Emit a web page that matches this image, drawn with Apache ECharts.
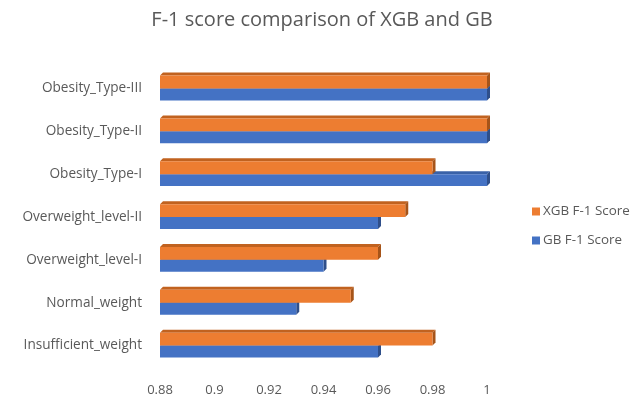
<!DOCTYPE html>
<html>
<head>
<meta charset="utf-8">
<script src="https://cdn.jsdelivr.net/npm/echarts@6/dist/echarts.min.js"></script>
<style>
  html, body { margin: 0; padding: 0; background: #fff; }
  #chart { width: 644px; height: 398px; }
</style>
</head>
<body>
<div id="chart"></div>
<script>
// Weight classes, bottom to top as drawn on the category axis
var categories = [
  'Insufficient_weight', 'Normal_weight', 'Overweight_level-I',
  'Overweight_level-II', 'Obesity_Type-I', 'Obesity_Type-II', 'Obesity_Type-III'
];
var xgbScores = [0.98, 0.95, 0.96, 0.97, 0.98, 1.00, 1.00];
var gbScores  = [0.96, 0.93, 0.94, 0.96, 1.00, 1.00, 1.00];
var xTicks = [0.88, 0.9, 0.92, 0.94, 0.96, 0.98, 1];

var AXIS_MIN = 0.88;
var DEPTH = 3;

// Draws one bar as a front face plus a shaded top face and end face
function make3DBar(front, top, side, upper) {
  return function (params, api) {
    var cat = api.value(0);
    var val = api.value(1);
    var p0 = api.coord([AXIS_MIN, cat]);
    var p1 = api.coord([val, cat]);
    var band = api.size([0, 1])[1];
    var half = band * 0.30;
    var yTop, yBot;
    if (upper) { yTop = p0[1] - half; yBot = p0[1]; }
    else { yTop = p0[1]; yBot = p0[1] + half * 0.93; }
    var x0 = p0[0], x1 = p1[0], d = DEPTH;
    return {
      type: 'group',
      children: [
        {
          type: 'polygon',
          shape: { points: [[x0, yTop], [x0 + d, yTop - d], [x1 + d, yTop - d], [x1, yTop]] },
          style: { fill: top }
        },
        {
          type: 'polygon',
          shape: { points: [[x1, yTop], [x1 + d, yTop - d], [x1 + d, yBot - d], [x1, yBot]] },
          style: { fill: side }
        },
        {
          type: 'rect',
          shape: { x: x0, y: yTop, width: x1 - x0, height: yBot - yTop },
          style: { fill: front }
        }
      ]
    };
  };
}

function toData(arr) {
  return arr.map(function (v, i) { return [i, v]; });
}

var chart = echarts.init(document.getElementById('chart'), null, { renderer: 'canvas' });
chart.setOption({
  animation: false,
  backgroundColor: '#ffffff',
  textStyle: { fontFamily: 'Open Sans, Liberation Sans, sans-serif' },
  title: {
    text: 'F-1 score comparison of XGB and GB',
    left: 'center',
    top: 5,
    textStyle: { fontSize: 20, fontWeight: 'normal', color: '#595959', fontFamily: 'Open Sans, sans-serif' }
  },
  legend: {
    data: ['XGB F-1 Score', 'GB F-1 Score'],
    orient: 'vertical',
    left: 527,
    top: 200,
    itemWidth: 8,
    itemHeight: 8,
    itemGap: 16,
    icon: 'rect',
    textStyle: { fontSize: 13.4, color: '#595959', padding: [0, 0, 0, -2] }
  },
  grid: { left: 160, right: 157, top: 67, bottom: 31 },
  xAxis: {
    type: 'value',
    min: AXIS_MIN,
    max: 1,
    interval: 0.02,
    axisLine: { show: false },
    axisTick: { show: false },
    splitLine: { show: false },
    axisLabel: {
      color: '#595959',
      fontSize: 13,
      margin: 17,
      formatter: function (v) {
        var hit = xTicks.filter(function (t) { return Math.abs(t - v) < 1e-9; });
        return hit.length ? String(hit[0]) : '';
      }
    }
  },
  yAxis: {
    type: 'category',
    data: categories,
    axisLine: { show: false },
    axisTick: { show: false },
    axisLabel: { color: '#595959', fontSize: 13.6, margin: 18, padding: [12, 0, 0, 0] }
  },
  series: [
    {
      name: 'GB F-1 Score',
      type: 'custom',
      itemStyle: { color: '#4472C4' },
      renderItem: make3DBar('#4472C4', '#3A62A8', '#2F4F8A', false),
      encode: { x: 1, y: 0 },
      data: toData(gbScores),
      z: 1
    },
    {
      name: 'XGB F-1 Score',
      type: 'custom',
      itemStyle: { color: '#ED7D31' },
      renderItem: make3DBar('#ED7D31', '#C1621F', '#A65419', true),
      encode: { x: 1, y: 0 },
      data: toData(xgbScores),
      z: 2
    }
  ]
});
</script>
</body>
</html>
